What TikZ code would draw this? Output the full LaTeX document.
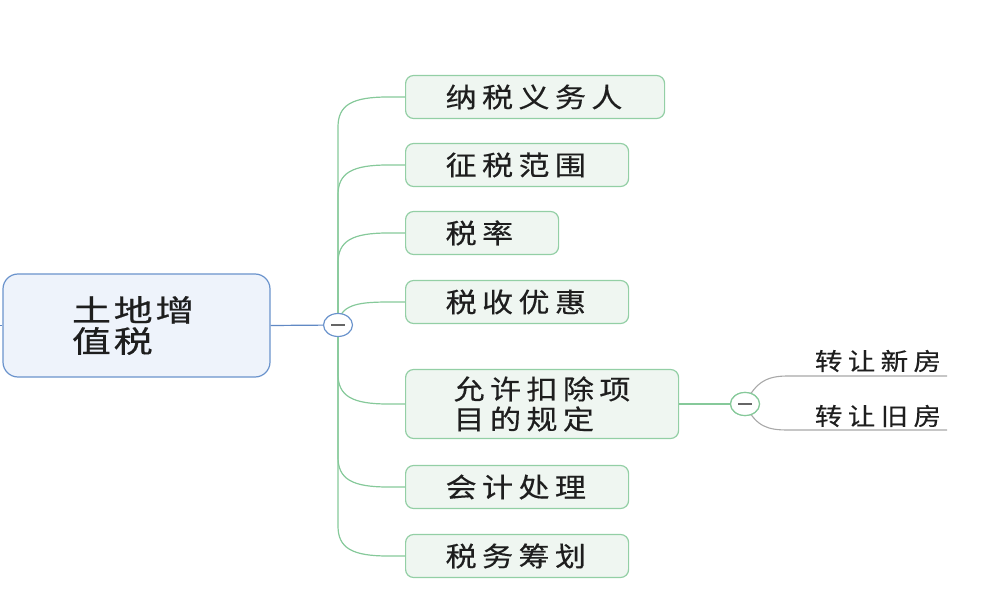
\documentclass[tikz,border=0pt]{standalone}
\usepackage{fontspec}
\usetikzlibrary{calc,shapes.geometric}
\newfontfamily\rootfont[FakeStretch=1.3,LetterSpace=9,FakeBold=0.6]{Noto Sans CJK SC}
\newfontfamily\boxfont[FakeStretch=1.15,LetterSpace=20,FakeBold=0.4]{Noto Sans CJK SC}
\newfontfamily\subfont[FakeStretch=1.15,LetterSpace=22,FakeBold=0.3]{Noto Sans CJK SC}
\definecolor{rootf}{HTML}{EEF3FB}
\definecolor{rootb}{HTML}{6A93CC}
\definecolor{gboxf}{HTML}{EFF6F1}
\definecolor{gboxb}{HTML}{93CFA5}
\definecolor{gline}{HTML}{86C99A}
\definecolor{bline}{HTML}{6189C4}
\definecolor{sline}{HTML}{A8A8A8}
\definecolor{txt}{HTML}{1E1E1E}
\definecolor{minus}{HTML}{666666}
\tikzset{
  rootbox/.style={draw=rootb, fill=rootf, rounded corners=15pt, line width=1.2pt,
    minimum width=267pt, minimum height=103pt, inner ysep=0pt, inner xsep=69pt,
    text width=129pt, align=left,
    text=txt, font=\rootfont\fontsize{30}{31}\selectfont},
  gbox/.style={draw=gboxb, fill=gboxf, rounded corners=8pt, line width=1.2pt,
    anchor=west, minimum height=43pt, inner ysep=0pt, inner xsep=40pt, align=left,
    text=txt, font=\boxfont\fontsize{27}{30}\selectfont},
  glinestyle/.style={draw=gline, line width=1.2pt},
  blinestyle/.style={draw=bline, line width=1.2pt},
  slinestyle/.style={draw=sline, line width=1.1pt},
  togglec/.style={ellipse, fill=white, line width=1.2pt, minimum width=29pt, minimum height=23pt, inner sep=0pt},
  sublabel/.style={text=txt, font=\subfont\fontsize{24}{26}\selectfont, inner sep=0pt}
}
\newcommand\mbranch[2]{%
  \draw[glinestyle] (c.center) -- ($(c.center|-#1.west)+(0,#2*30)$)
    .. controls ($(c.center|-#1.west)+(0,#2*8)$) and ($(c.center|-#1.west)+(14,0)$)
    .. ($(c.center|-#1.west)+(50,0)$) -- (#1.west);}
\begin{document}
\begin{tikzpicture}[x=1pt,y=-1pt]
\useasboundingbox (0,0) rectangle (1001,612);
\node[rootbox] (root) at (136.5,325.5) {土地增\\值税};
\coordinate (lstub) at (0,325.5);
\draw[blinestyle] (lstub) -- (root.west);

\node[gbox, text width=179pt] (b1) at (405,97) {纳税义务人};
\node[gbox, text width=143pt] (b2) at (405,165) {征税范围};
\node[gbox, text width=73pt] (b3) at (405,233) {税率};
\node[gbox, text width=143pt] (b4) at (405,302) {税收优惠};
\node[gbox, text width=193pt, minimum height=69pt] (b5) at (405,404) {\hspace*{8pt}允许扣除项\\\hspace*{8pt}目的规定};
\node[gbox, text width=143pt] (b6) at (405,487) {会计处理};
\node[gbox, text width=143pt] (b7) at (405,556) {税务筹划};

\coordinate (c) at (338,325);
\mbranch{b1}{1}
\mbranch{b2}{1}
\mbranch{b3}{1}
\draw[glinestyle] (c.center) -- (338,320) .. controls (344,304) and (360,302) .. (390,302) -- (b4.west);
\mbranch{b5}{-1}
\mbranch{b6}{-1}
\mbranch{b7}{-1}
\draw[blinestyle] (root.east) -- (c);
\node[togglec, draw=rootb] (ct) at (c) {};
\draw[minus, line width=2.5pt] ($(ct.center)+(-7,0)$) -- ($(ct.center)+(7,0)$);

% sub branch
\node[togglec, draw=gline] (sc) at (745,404) {};
\coordinate (u1) at (788,376);
\coordinate (u2) at (947,376);
\coordinate (l1) at (788,430);
\coordinate (l2) at (947,430);
\draw[slinestyle] (sc.center) .. controls (756,381) and (768,376) .. (u1) -- (u2);
\draw[slinestyle] (sc.center) .. controls (756,427) and (768,430) .. (l1) -- (l2);
\draw[glinestyle] (b5.east) -- (sc);
\node[togglec, draw=gline] (sc2) at (745,404) {};
\draw[minus, line width=2.5pt] ($(sc2.center)+(-7,0)$) -- ($(sc2.center)+(7,0)$);
\node[sublabel] (t1) at (878,361) {转让新房};
\node[sublabel] (t2) at (878,416) {转让旧房};
\end{tikzpicture}
\end{document}
